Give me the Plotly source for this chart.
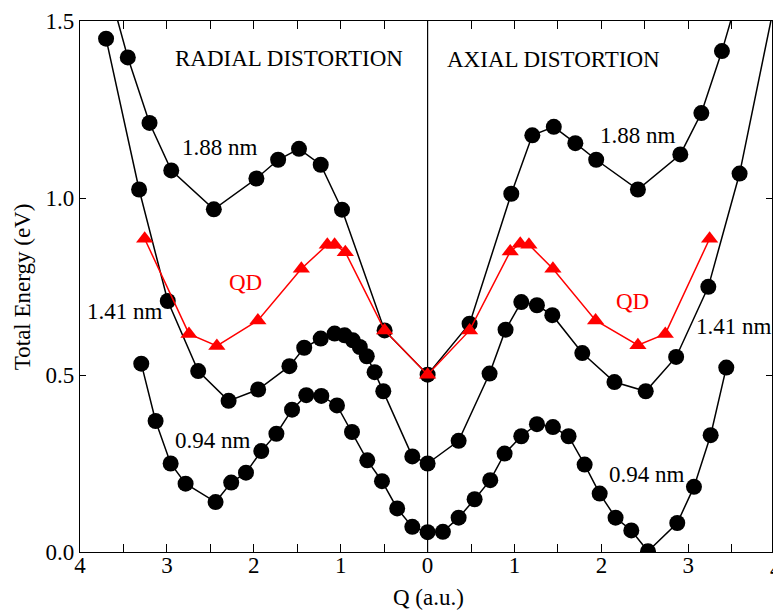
import plotly.graph_objects as go

# ---- data (Q in a.u., energies in eV); radial Q read as positive on the left half ----
q188_rad = [3.70, 3.45, 3.20, 2.95, 2.46, 1.97, 1.72, 1.48, 1.23, 0.985, 0.495, 0.0]
e188_rad = [1.62, 1.397, 1.212, 1.078, 0.968, 1.055, 1.108, 1.139, 1.094, 0.967, 0.626, 0.501]
q188_ax = [0.483, 0.963, 1.205, 1.452, 1.70, 1.94, 2.42, 2.908, 3.15, 3.387, 3.63]
e188_ax = [0.645, 1.012, 1.177, 1.201, 1.155, 1.108, 1.024, 1.123, 1.240, 1.415, 1.62]

q141_rad = [3.70, 3.32, 2.99, 2.64, 2.29, 1.95, 1.59, 1.42, 1.23, 1.07, 0.955, 0.86,
            0.78, 0.70, 0.61, 0.51, 0.176, 0.0]
e141_rad = [1.450, 1.024, 0.709, 0.511, 0.427, 0.459, 0.525, 0.577, 0.603, 0.617, 0.612,
            0.598, 0.579, 0.553, 0.508, 0.454, 0.270, 0.250]
q141_ax = [0.357, 0.713, 0.897, 1.078, 1.258, 1.435, 1.78, 2.15, 2.51, 2.86, 3.23, 3.59, 4.0]
e141_ax = [0.314, 0.504, 0.628, 0.706, 0.697, 0.669, 0.562, 0.480, 0.454, 0.551, 0.749, 1.069, 1.56]

q094_rad = [3.295, 3.13, 2.957, 2.785, 2.44, 2.26, 2.09, 1.914, 1.74, 1.56, 1.396, 1.223,
            1.043, 0.87, 0.694, 0.525, 0.35, 0.176, 0.0]
e094_rad = [0.532, 0.370, 0.250, 0.193, 0.141, 0.196, 0.224, 0.285, 0.334, 0.402, 0.443,
            0.441, 0.414, 0.339, 0.259, 0.200, 0.123, 0.071, 0.056]
q094_ax = [0.176, 0.357, 0.541, 0.721, 0.886, 1.078, 1.258, 1.442, 1.622, 1.807, 1.98,
           2.163, 2.344, 2.536, 2.873, 3.065, 3.257, 3.437]
e094_ax = [0.057, 0.097, 0.149, 0.203, 0.278, 0.327, 0.361, 0.353, 0.327, 0.247, 0.165,
           0.097, 0.061, 0.002, 0.082, 0.184, 0.330, 0.521]

qQD_rad = [3.256, 2.746, 2.425, 1.953, 1.453, 1.154, 1.07, 0.947, 0.495, 0.0]
eQD_rad = [0.885, 0.616, 0.582, 0.654, 0.800, 0.868, 0.868, 0.847, 0.626, 0.501]
qQD_ax = [0.483, 0.951, 1.066, 1.166, 1.442, 1.933, 2.42, 2.735, 3.245]
eQD_ax = [0.626, 0.849, 0.871, 0.868, 0.800, 0.654, 0.584, 0.616, 0.885]

x_tick_vals = [-4, -3, -2, -1, 0, 1, 2, 3]
x_tick_text = ["4", "3", "2", "1", "0", "1", "2", "3"]
y_tick_vals = [0.0, 0.5, 1.0, 1.5]
y_tick_text = ["0.0", "0.5", "1.0", "1.5"]

FONT = "Liberation Serif, Times New Roman, serif"
FS = 23


def combine(q_rad, e_rad, q_ax, e_ax):
    return [-q for q in q_rad] + list(q_ax), list(e_rad) + list(e_ax)


fig = go.Figure()

for qr, er, qa, ea in [(q141_rad, e141_rad, q141_ax, e141_ax),
                       (q188_rad, e188_rad, q188_ax, e188_ax),
                       (q094_rad, e094_rad, q094_ax, e094_ax)]:
    x, y = combine(qr, er, qa, ea)
    fig.add_trace(go.Scatter(x=x, y=y, mode="lines+markers",
                             line=dict(color="black", width=1.5),
                             marker=dict(symbol="circle", size=16, color="black"),
                             showlegend=False, cliponaxis=True))

x, y = combine(qQD_rad, eQD_rad, qQD_ax, eQD_ax)
fig.add_trace(go.Scatter(x=x, y=y, mode="lines+markers",
                         line=dict(color="#ff0000", width=1.5),
                         marker=dict(symbol="triangle-up", size=15, color="#ff0000"),
                         showlegend=False, cliponaxis=True))

# vertical separator at Q = 0
fig.add_shape(type="line", xref="x", yref="y", x0=0, x1=0, y0=0, y1=1.5,
              line=dict(color="black", width=1.2), layer="below")

ann = [
    ("RADIAL DISTORTION", -1.600, 1.3946, "black"),
    ("AXIAL DISTORTION", 1.450, 1.391, "black"),
    ("1.88 nm", -2.388, 1.143, "black"),
    ("1.88 nm", 2.420, 1.177, "black"),
    ("1.41 nm", -3.481, 0.678, "black"),
    ("1.41 nm", 3.527, 0.636, "black"),
    ("0.94 nm", -2.474, 0.3155, "black"),
    ("0.94 nm", 2.520, 0.2186, "black"),
    ("QD", -2.100, 0.760, "#ff0000"),
    ("QD", 2.359, 0.709, "#ff0000"),
]
for text, ax_, ay_, col in ann:
    fig.add_annotation(x=ax_, y=ay_, xref="x", yref="y", text=text, showarrow=False,
                       font=dict(family=FONT, size=FS, color=col),
                       xanchor="center", yanchor="middle")

PW, PH = 692.0, 531.0
# partially visible right-most tick label "4"
fig.add_annotation(x=(775.6 - 80) / PW, y=-17.6 / PH, xref="paper", yref="paper",
                   text="4", showarrow=False,
                   font=dict(family=FONT, size=FS, color="black"),
                   xanchor="center", yanchor="middle")

# axis titles
fig.add_annotation(x=(428 - 80) / PW, y=-45.8 / PH, xref="paper", yref="paper",
                   text="Q (a.u.)", showarrow=False, borderpad=0,
                   font=dict(family=FONT, size=FS, color="black"),
                   xanchor="center", yanchor="middle")
fig.add_annotation(x=(22.7 - 80) / PW, y=0.5, xref="paper", yref="paper",
                   text="Total Energy (eV)", showarrow=False, textangle=-90,
                   font=dict(family=FONT, size=FS, color="black"),
                   xanchor="center", yanchor="middle")

fig.update_layout(
    width=773, height=613,
    margin=dict(l=80, r=1, t=21, b=61, pad=0),
    paper_bgcolor="white", plot_bgcolor="white",
    font=dict(family=FONT, size=FS, color="black"),
    xaxis=dict(range=[-4, 3.963], tickmode="array", tickvals=x_tick_vals,
               ticktext=x_tick_text, ticks="inside", ticklen=8, tickwidth=1.3,
               tickcolor="black", showline=True, linecolor="black", linewidth=1.3,
               mirror="ticks", showgrid=False, zeroline=False,
               ticklabelstandoff=-8,
               minor=dict(dtick=0.5, tick0=0, ticks="inside", ticklen=8,
                          tickwidth=1.3, tickcolor="black", showgrid=False),
               tickfont=dict(family=FONT, size=FS, color="black")),
    yaxis=dict(range=[0, 1.5], tickmode="array", tickvals=y_tick_vals,
               ticktext=y_tick_text, ticks="inside", ticklen=6, tickwidth=1.3,
               tickcolor="black", showline=True, linecolor="black", linewidth=1.3,
               mirror="ticks", showgrid=False, zeroline=False,
               tickfont=dict(family=FONT, size=FS, color="black")),
)

fig.write_html("out.html", config={"displayModeBar": False},
               post_script="document.body.style.margin='0';"
                           "document.body.style.overflow='hidden';")
